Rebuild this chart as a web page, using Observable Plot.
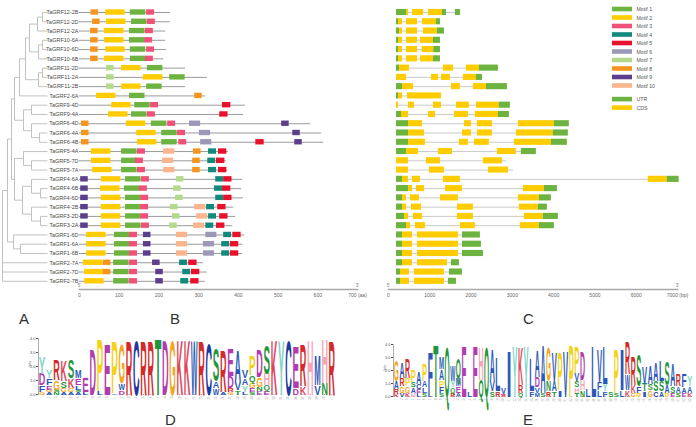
<!DOCTYPE html>
<html><head><meta charset="utf-8">
<script src="https://cdn.jsdelivr.net/npm/d3@7"></script>
<script src="https://cdn.jsdelivr.net/npm/@observablehq/plot@0.6"></script>
<style>
body{margin:0;background:#fff;}
#root{position:relative;width:696px;height:427px;overflow:hidden;font-family:"Liberation Sans",Arial,sans-serif;}
#root svg{position:absolute;left:0;top:0;}
.lab{position:absolute;font-size:15px;color:#333;line-height:15px;}
</style></head><body><div id="root"></div>
<script>
const W = 696, H = 427;
const FONT = "Liberation Sans, Arial, sans-serif";

// ---------- data ----------
const genes = ["TaGRF12-2B","TaGRF12-2D","TaGRF12-2A","TaGRF10-6A","TaGRF10-6D","TaGRF10-6B","TaGRF11-2D","TaGRF11-2A","TaGRF11-2B","TaGRF2-6A","TaGRF9-4D","TaGRF9-4A","TaGRF6-4D","TaGRF6-4A","TaGRF6-4B","TaGRF5-4A","TaGRF5-7D","TaGRF5-7A","TaGRF4-6A","TaGRF4-6B","TaGRF4-6D","TaGRF4-2B","TaGRF3-2D","TaGRF3-2A","TaGRF1-6D","TaGRF1-6A","TaGRF1-6B","TaGRF2-7A","TaGRF2-7D","TaGRF2-7B"];

const proteinLength = [229,229,217,217,219,212,267,322,267,317,418,413,582,610,615,375,370,373,411,408,413,388,393,386,416,411,411,312,322,317];

const motifNames = ["Motif 1","Motif 2","Motif 3","Motif 4","Motif 5","Motif 6","Motif 7","Motif 8","Motif 9","Motif 10"];
const motifColors = ["#6db33f","#ffcc00","#f0507a","#0f8a7c","#e8102a","#9c98b8","#b2da8a","#f7941d","#5c3f8c","#fbb58c"];
const motifLength = [39,49,20,20,21,28,19,19,19,28];

// motif:start(aa)
const geneMotifs = [
"8:29 2:66 1:128 3:169","8:33 2:68 1:131 3:171","8:28 2:63 1:126 3:166","8:28 2:63 1:126 3:164",
"8:28 2:66 1:128 3:169","8:28 2:63 1:128 3:166","7:68 2:106 1:171","7:68 2:161 1:227","7:68 2:106 1:169",
"2:43 1:126 8:290","2:81 1:139 3:179 5:360","2:73 1:131 3:171 5:353",
"8:5 2:118 1:181 3:222 6:277 9:509","8:5 2:144 1:207 3:247 6:302 9:537","8:5 2:146 1:207 3:250 6:305 5:444 9:542",
"2:30 1:106 3:146 10:212 8:287 4:325 5:350","2:30 1:106 3:141 10:209 8:285 4:323 5:345","2:33 1:106 3:146 10:212 8:285 4:325 5:350",
"9:3 2:55 1:116 3:156 7:244 4:343 5:363","9:3 2:53 1:113 3:151 7:237 4:340 5:360","9:3 2:55 1:116 3:154 7:242 4:343 5:363",
"9:3 2:55 1:116 3:154 7:229 10:290 4:320 5:348","9:3 2:55 1:116 3:154 7:234 10:295 4:325 5:353","9:3 2:55 1:116 3:156 7:227 10:287 4:318 5:345",
"2:18 1:88 3:126 9:161 10:244 6:318 4:363 5:386","2:18 1:88 3:126 9:161 10:244 6:312 4:358 5:380","2:18 1:88 3:126 9:161 10:244 6:312 4:358 5:380",
"2:10 8:60 1:86 3:126 9:184 4:252 5:275","2:13 8:60 1:86 3:126 9:192 4:260 5:282","2:13 1:86 3:126 9:192 4:255 5:280"];

// U = UTR, C = CDS, L = gene end (bp)
const geneStructure = [
"U194-436 C436-484 C581-847 C968-1307 U1307-1404 U1621-1742",
"U194-242 C242-339 C436-702 C823-1162 U1162-1258",
"U194-266 C266-339 C436-702 C847-1186 U1186-1355",
"U194-242 C242-339 C436-702 C774-1089 U1089-1258",
"U194-242 C242-339 C436-702 C815-1097 U1097-1258",
"U194-242 C242-339 C436-702 C774-1089 U1089-1258",
"U194-266 C266-508 C1331-1573 C1888-2202 U2202-2662",
"C194-436 C1041-1210 C1283-1500 C1815-2130 U2130-2275",
"U194-339 C339-605 C1525-1742 C2057-2372 U2372-2880",
"U194-242 C242-339 C460-1283",
"C194-242 C484-629 C1089-1283 C1646-1960 C2130-2686 U2686-2952",
"U194-315 C315-484 C968-1137 C1597-1936 C2105-2662 U2662-2928",
"U194-484 C484-823 C1839-2009 C2154-2517 C3146-4017 U4017-4380",
"U194-484 C484-871 C1791-2009 C2154-2517 C3098-3993 U3993-4356",
"U194-484 C484-895 C1718-1936 C2081-2444 C3049-3945 U3945-4332",
"U194-436 C436-726 C1210-1549 C2638-3098 U3219-3582",
"C194-484 C920-1258 C2299-2759 L2856",
"C194-484 C992-1355 C2420-2904 L3025",
"U194-339 C339-484 C581-774 C1331-1742 C6292-6752 U6752-7040",
"U194-484 C484-581 C678-871 C1379-1791 C3267-3775 U3775-4090",
"U194-339 C339-436 C532-750 C1258-1694 C3146-3654 U3654-3945",
"U194-339 C339-436 C557-799 C1670-2057 C3170-3630 U3630-3848",
"U194-387 C387-484 C605-823 C1670-2057 C3291-3751 U3751-4114",
"U194-436 C436-532 C653-895 C1742-2105 C3194-3654 U3654-4017",
"U194-339 C339-581 C702-1694 U1791-2226",
"U194-339 C339-581 C702-1694 U1791-2251",
"U194-339 C339-581 C702-1694 U1791-2299",
"U194-339 C339-581 C702-1428 U1525-1718",
"U194-290 C290-508 C629-1355 U1476-1791",
"U194-290 C290-508 C629-1355 U1452-1646"];
const structureNames = ["UTR","CDS"];
const structureColors = ["#6db33f","#ffcc00"];

// tree: [node, parent, depth]
const treeNodes = [
["root",null,0],["n1","root",5],["n2","n1",9],["n3","n2",12],["n5","n3",17],["n7","n5",23],["n8","n7",27],
["n10","n8",35],["n10a","n10",40],["n11","n8",36],["n11a","n11",40],["n9","n7",36],["n9a","n9",40],
["n6","n3",21],["n12","n6",29],["n13","n6",29],["n13a","n13",37],
["n4","n2",12],["n14","n4",21],["n14a","n14",29],["n15","n4",20],["n16","n15",29],["n16a","n16",38],
["n17","n15",29],["n17a","n17",38],["n18","n1",11],["n18a","n18",18]];
const leafParent = ["n10a","n10a","n10","n11a","n11a","n11","n9a","n9a","n9","n5","n12","n12","n13","n13a","n13a",
"n14","n14a","n14a","n16","n16a","n16a","n17","n17a","n17a","n18","n18a","n18a","root","root","root"];
const leafDepth = 45;

// sequence logos: letter:bits per position
const logoD = ["Y:1.2,D:0.8,F:0.5,G:0.2","Y:0.6,F:0.5,E:0.3,G:0.2,A:0.15","R:1.5,G:0.7,S:0.2,N:0.15","K:1.5,S:0.5,G:0.3,A:0.15",
"S:1.3,K:0.7,G:0.3,A:0.2","M:0.6,E:0.5,L:0.3,S:0.2,A:0.15","E:1.0,L:0.2","D:3.3","P:3.8,L:0.25","E:3.7","P:3.8,A:0.1",
"G:2.8,W:0.5,D:0.3","R:4.0","C:4.0","R:4.0","R:4.0","T:4.1","D:4.0","G:4.0","K:4.0","K:4.0","W:4.0","R:4.0","C:3.7",
"S:2.4,A:0.5,W:0.45","R:3.0,A:0.15","E:2.0,D:0.8,R:0.3,G:0.2","A:2.3,V:0.6,T:0.3","V:0.6,A:0.5,Y:0.45,L:0.2",
"P:1.4,Q:0.5,G:0.4,E:0.3,S:0.2","D:2.0,G:0.7,N:0.3,E:0.25","S:2.1,H:0.8,Q:0.4,E:0.3","K:4.0","Y:4.0","C:4.0",
"E:3.0,D:0.5","R:3.0,K:0.6","H:4.0","M:2.2,V:0.7","H:3.2,N:0.8","R:4.0"];
const logoE = ["G:1.6,A:0.6,R:0.4,K:0.2","A:1.2,R:0.6,G:0.5,V:0.3","R:1.5,P:0.6,G:0.5,K:0.3","P:0.9,A:0.4,S:0.4,H:0.3",
"A:0.9,C:0.4,L:0.3,E:0.3","P:1.3,A:0.5,L:0.4,S:0.3","F:3.2,L:0.3","T:4.1","M:0.9,A:0.85,P:0.5,F:0.45,S:0.3","Q:3.9",
"W:1.2,Y:0.5,Q:0.4,R:0.3","Q:1.5,M:0.6,E:0.5,A:0.3","E:4.0","L:0.4","E:4.0","H:2.5,Q:1.3","Q:3.9","A:2.4,V:0.8,S:0.4",
"L:2.6,R:0.4","V:0.5,R:0.2","I:3.6","Y:4.0","K:3.0,R:0.6,Q:0.3","Y:4.0","L:2.5,F:0.4","A:2.0,D:0.8,V:0.4,M:0.3",
"A:3.8,S:0.3","G:2.6,N:0.8,R:0.4","V:2.2,A:0.8,T:0.4","P:3.0,I:0.5","V:3.6","P:4.1","P:2.0,V:0.6,S:0.5,H:0.4,T:0.3",
"D:2.2,H:0.8,N:0.5","L:0.6","L:4.0","V:2.5,F:0.6,L:0.5","L:3.0,Y:0.6,F:0.4","S:0.4","P:3.5,S:0.3","I:3.2,L:0.5",
"R:2.5,W:1.2,K:0.5","R:2.2,K:0.6,G:0.3","S:2.4,F:0.5,P:0.3","V:1.3,T:0.6,I:0.4","A:1.4,G:0.5,S:0.5","A:1.4,S:0.8,C:0.4",
"L:1.6,S:0.8,A:0.4","S:1.8,A:0.6,P:0.3","A:1.7,S:0.5,E:0.3","R:0.9,A:0.5,S:0.3","F:1.0,A:0.4,E:0.3","Y:0.8,A:0.5,K:0.3"];
const letterColors = {R:"#d42a2a",K:"#e0465a",H:"#f4a6b8",D:"#b03cb0",E:"#b03cb0",P:"#f4d21a",G:"#f5a623",
C:"#1a3aa0",W:"#2a58b8",M:"#2a58b8",L:"#2a58b8",V:"#2a58b8",I:"#2a58b8",F:"#2a58b8",A:"#2a58b8",
S:"#1f963c",T:"#1f963c",N:"#1f963c",Q:"#1f963c",Y:"#7fd6c6"};

const panelLabels = ["A","B","C","D","E"];

// ---------- helpers ----------
const root = document.getElementById("root");
const baseStyle = {background:"transparent", overflow:"visible", fontFamily: FONT};
const rowY = {domain:[0, genes.length - 1], range:[12, 280.8], axis:null};

// ---------- tree (A) ----------
const nodes = new Map(treeNodes.map(([id,parent,depth]) => [id,{id,parent,depth,children:[]}]));
genes.forEach((g,i) => nodes.set(g,{id:g,parent:leafParent[i],depth:leafDepth,children:[],y:i}));
for (const n of nodes.values()) if (n.parent) nodes.get(n.parent).children.push(n);
(function setY(n){ if(!n.children.length) return n.y; const ys=n.children.map(setY); n.y0=Math.min(...ys); n.y1=Math.max(...ys); n.y=(n.y0+n.y1)/2; return n.y; })(nodes.get("root"));
const segs = [];
for (const n of nodes.values()) {
  if (n.parent) { const p = nodes.get(n.parent); segs.push({x1:p.depth,x2:n.depth,y1:n.y,y2:n.y}); }
  if (n.children.length) segs.push({x1:n.depth,x2:n.depth,y1:n.y0,y2:n.y1});
}
root.append(Plot.plot({
  width:W, height:H, margin:0, style:baseStyle,
  x:{domain:[0,leafDepth], range:[2,47], axis:null}, y:rowY,
  marks:[Plot.link(segs,{x1:"x1",y1:"y1",x2:"x2",y2:"y2",stroke:"#b3b3b3",strokeWidth:0.8})]
}));

// ---------- motifs (B) ----------
const motifRects = [];
geneMotifs.forEach((s,i) => s.split(" ").forEach(t => { const [m,st] = t.split(":").map(Number); motifRects.push({row:i,m,start:st,end:st+motifLength[m-1]}); }));
root.append(Plot.plot({
  width:W, height:H, marginLeft:79, marginRight:W-357, marginTop:0, marginBottom:H-289, style:baseStyle,
  x:{domain:[0,700]}, y:rowY, color:{type:"identity"},
  marks:[
    Plot.ruleY(genes,{y:(d,i)=>i, x1:0, x2:(d,i)=>proteinLength[i], stroke:"#8e8e8e", strokeWidth:0.9}),
    Plot.rect(motifRects,{x1:"start",x2:"end",y1:d=>d.row-0.29,y2:d=>d.row+0.29,fill:d=>motifColors[d.m-1]}),
    Plot.text(genes,{x:0,y:(d,i)=>i,text:d=>d,textAnchor:"end",dx:-1,fontSize:5.5,fill:"#4a4a4a"}),
    Plot.frame({anchor:"bottom",stroke:"#a8a8a8",strokeWidth:1.6}),
    Plot.axisX({ticks:d3.range(0,701,100),tickSize:0,tickPadding:4,fontSize:5,label:null,color:"#666",
      tickFormat:d=>d===700?"700 (aa)":String(d)}),
    Plot.text(["5'","3'"],{x:[0,700],frameAnchor:"bottom",dy:-3,fontSize:4.5,fill:"#777"})
  ]
}));

// ---------- gene structure (C) ----------
const structRects = [], structLines = [];
geneStructure.forEach((s,i) => {
  let lo = Infinity, hi = -Infinity;
  s.split(" ").forEach(t => {
    const type = t[0], v = t.slice(1).split("-").map(Number);
    if (type === "L") { hi = Math.max(hi, v[0]); return; }
    lo = Math.min(lo, v[0]); hi = Math.max(hi, v[1]);
    structRects.push({row:i, type, start:v[0], end:v[1]});
  });
  structLines.push({row:i, start:lo, end:hi});
});
root.append(Plot.plot({
  width:W, height:H, marginLeft:388, marginRight:W-677, marginTop:0, marginBottom:H-289, style:baseStyle,
  x:{domain:[0,7000]}, y:rowY, color:{type:"identity"},
  marks:[
    Plot.ruleY(structLines,{y:"row",x1:"start",x2:"end",stroke:"#bdbdbd",strokeWidth:0.8}),
    Plot.rect(structRects,{x1:"start",x2:"end",y1:d=>d.row-0.33,y2:d=>d.row+0.33,
      fill:d=>structureColors[d.type==="U"?0:1]}),
    Plot.frame({anchor:"bottom",stroke:"#a8a8a8",strokeWidth:1.6}),
    Plot.axisX({ticks:d3.range(0,7001,1000),tickSize:0,tickPadding:4,fontSize:5,label:null,color:"#666",
      tickFormat:d=>d===7000?"7000 (bp)":String(d)}),
    Plot.text(["5'","3'"],{x:[0,7000],frameAnchor:"bottom",dy:-3,fontSize:4.5,fill:"#777"})
  ]
}));

// ---------- legend ----------
const legendItems = motifNames.map((n,i)=>({name:n,color:motifColors[i],y:i}))
  .concat(structureNames.map((n,i)=>({name:n,color:structureColors[i],y:motifNames.length+0.6+i})));
root.append(Plot.plot({
  width:W, height:H, margin:0, style:baseStyle,
  x:{domain:[0,1],range:[612,632],axis:null}, y:{domain:[0,9],range:[9,85.5],axis:null}, color:{type:"identity"},
  marks:[
    Plot.rect(legendItems,{x1:0,x2:1,y1:d=>d.y-0.27,y2:d=>d.y+0.27,fill:"color"}),
    Plot.text(legendItems,{x:1,y:"y",dx:4,text:"name",textAnchor:"start",fontSize:5.2,fill:"#555"})
  ]
}));

// ---------- logos (D, E) ----------
function stretch(el, sx, sy) {
  const t = el.getAttribute("transform");
  if (t && t.includes("translate")) el.setAttribute("transform", `${t} scale(${sx},${sy})`);
  else {
    const x = parseFloat(el.getAttribute("x")) || 0, y = parseFloat(el.getAttribute("y")) || 0;
    el.setAttribute("transform", `translate(${x},${y}) scale(${sx},${sy}) translate(${-x},${-y})`);
  }
}
function drawLogo(cols, m) {
  const letters = [];
  cols.forEach((s,ci) => {
    const items = s.split(",").map(t => { const [l,h] = t.split(":"); return {l, h:+h}; }).sort((a,b)=>a.h-b.h);
    let y0 = 0;
    for (const it of items) { letters.push({col:ci+1, letter:it.l, h:it.h, y0}); y0 += it.h; }
  });
  const FS = 20;
  const p = Plot.plot({
    width:W, height:H, marginLeft:m.left, marginRight:W-m.right, marginTop:m.top, marginBottom:H-m.bottom, style:baseStyle,
    x:{domain:[0.5, cols.length+0.5], axis:null}, y:{domain:[0,4], axis:null}, color:{type:"identity"},
    marks:[
      Plot.frame({anchor:"left",stroke:"#777",strokeWidth:0.6}),
      Plot.axisY({ticks:[0,1,2,3,4],tickSize:2,tickPadding:1,fontSize:4,label:null,color:"#555"}),
      Plot.axisX({ticks:d3.range(1,cols.length+1),tickRotate:-90,tickSize:1,tickPadding:1,fontSize:2.6,label:null,color:"#999"}),
      Plot.text(["bits"],{frameAnchor:"left",rotate:-90,dx:-9,fontSize:3.5,fill:"#555"}),
      Plot.text(letters,{x:"col",y:"y0",text:"letter",fill:d=>letterColors[d.letter]||"#888",
        fontSize:FS,fontWeight:"bold",fontFamily:FONT,lineAnchor:"bottom",textAnchor:"middle"})
    ]
  });
  root.append(p);
  const xs = p.scale("x"), ys = p.scale("y");
  const colW = Math.abs(xs.apply(2) - xs.apply(1));
  const pxBit = Math.abs(ys.apply(0) - ys.apply(1));
  // find the group holding the letter glyphs (one text per letter)
  let group = null;
  p.querySelectorAll("g").forEach(g => {
    const kids = Array.from(g.children);
    if (!group && kids.length === letters.length && kids.every(k => k.tagName.toLowerCase() === "text")) group = g;
  });
  if (!group) return;
  Array.from(group.children).forEach((el,i) => {
    const d = letters[i]; if (!d) return;
    const adv = el.getComputedTextLength() || FS*0.7;
    stretch(el, colW*0.9/adv, d.h*pxBit/(0.716*FS));
  });
}
drawLogo(logoD, {left:38, right:335, top:338, bottom:394});
drawLogo(logoE, {left:393, right:692, top:344, bottom:396});

// ---------- panel labels ----------
const labelPos = [[19,311],[170,311],[523,311],[165,412],[523,412]];
panelLabels.forEach((t,i) => {
  const d = document.createElement("div");
  d.className = "lab"; d.textContent = t;
  d.style.left = labelPos[i][0] + "px"; d.style.top = labelPos[i][1] + "px";
  root.append(d);
});
</script></body></html>
